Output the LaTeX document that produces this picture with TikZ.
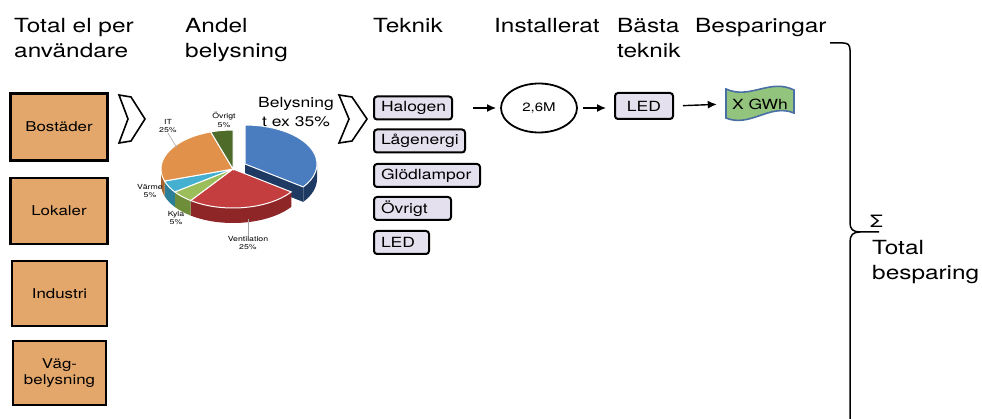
\documentclass[tikz,border=0pt]{standalone}
\usepackage{fontspec}
\setmainfont{TeX Gyre Heros}[FakeStretch=1.25]
\usetikzlibrary{arrows.meta,shapes.geometric}
\definecolor{boxorange}{HTML}{E4A76B}
\definecolor{techfill}{HTML}{E5E0EE}
\definecolor{flaggreen}{HTML}{93C47D}
\definecolor{flagedge}{HTML}{4A6FA5}
\definecolor{bluetop}{HTML}{4A7DC0}
\definecolor{blueside}{HTML}{1E3A63}
\definecolor{redtop}{HTML}{C43E3F}
\definecolor{redside}{HTML}{8E2526}
\definecolor{greentop}{HTML}{9BBE5A}
\definecolor{greenside}{HTML}{6E8E3A}
\definecolor{cyantop}{HTML}{45AFCF}
\definecolor{cyanside}{HTML}{2C7F99}
\definecolor{orangetop}{HTML}{E2914A}
\definecolor{orangeside}{HTML}{A8632A}
\definecolor{olivetop}{HTML}{4E6B2A}
\newcommand\pietop[3]{\fill[#3, draw=white, line width=1pt] (0,0) -- ({72*cos(#1)},{39*sin(#1)}) arc[start angle=#1, end angle=#2, x radius=72pt, y radius=39pt] -- cycle;}
\newcommand\pieside[3]{\fill[#3] ({72*cos(#1)},{39*sin(#1)}) arc[start angle=#1, end angle=#2, x radius=72pt, y radius=39pt] -- ++(0,-15) arc[start angle=#2, end angle=#1, x radius=72pt, y radius=39pt] -- cycle;}
\begin{document}
\begin{tikzpicture}[x=1pt,y=-1pt,
  catbox/.style={draw, line width=2.2pt, fill=boxorange, align=center, font=\fontsize{13.5}{16}\selectfont},
  techbox/.style={draw, line width=2pt, rounded corners=3pt, fill=techfill, minimum height=23pt, inner xsep=7pt, inner ysep=0pt, anchor=west, align=left, font=\fontsize{14}{16}\selectfont},
  heading/.style={inner sep=0pt, anchor=north west, align=left, font=\fontsize{19.5}{25}\selectfont},
  pielbl/.style={font=\fontsize{7}{8.5}\selectfont, align=center, inner sep=0pt},
  hollow/.style={draw, line width=1.6pt, fill=white, line join=miter},
  flow/.style={line width=1.4pt, -{Latex[length=9pt,width=8pt]}},
  leader/.style={draw=gray!70, line width=0.6pt}]
\useasboundingbox (0,0) rectangle (982,419);

% headings
\node[heading] (h1) at (14,18) {Total el per\\användare};
\node[heading] (h2) at (185,18) {Andel\\belysning};
\node[heading] (h3) at (373,18) {Teknik};
\node[heading] (h4) at (494,18) {Installerat};
\node[heading] (h5) at (617,18) {Bästa\\teknik};
\node[heading] (h6) at (695,18) {Besparingar};

% category boxes
\node[catbox, minimum width=97pt, minimum height=67pt] (bostader) at (59,127) {Bostäder};
\node[catbox, minimum width=97pt, minimum height=66pt] (lokaler) at (59,211) {Lokaler};
\node[catbox, minimum width=95pt, minimum height=65pt] (industri) at (59.5,293.5) {Industri};
\node[catbox, minimum width=93pt, minimum height=64pt] (vag) at (59.5,373) {Väg-\\belysning};

% hollow arrows
\draw[hollow] (119,95) -- (131,97) -- (145,119) -- (131,141) -- (119,143) -- (128,119) -- cycle;
\draw[hollow] (339,95) -- (352,97) -- (367,119) -- (352,141) -- (339,143) -- (349,119) -- cycle;

% pie chart
\begin{scope}[shift={(233,169)}, x=1pt, y=1pt]
  \begin{scope}[shift={(12,5)}]
    \pieside{-36}{0}{blueside}
    \fill[blueside] (0,0) -- ({72*cos(-36)},{39*sin(-36)}) -- ++(0,-15) -- (0,-15) -- cycle;
    \pietop{-36}{90}{bluetop}
  \end{scope}
  \pieside{-126}{-36}{redside}
  \pieside{-144}{-126}{greenside}
  \pieside{-162}{-144}{cyanside}
  \pieside{-180}{-162}{orangeside}
  \pietop{-126}{-36}{redtop}
  \pietop{-144}{-126}{greentop}
  \pietop{-162}{-144}{cyantop}
  \pietop{108}{198}{orangetop}
  \pietop{90}{108}{olivetop}
\end{scope}

% pie labels
\node[pielbl] (itlbl) at (168,126) {IT\\25\%};
\node[pielbl] (ovlbl) at (224,120) {Övrigt\\5\%};
\node[pielbl] (varmelbl) at (150,191) {Värme\\5\%};
\node[pielbl] (kylalbl) at (176,218) {Kyla\\5\%};
\node[pielbl] (ventlbl) at (248,243) {Ventilation\\25\%};
\coordinate (ventpt) at (248,219);
\coordinate (itpt) at (177,148);
\draw[leader] (ventlbl.north) -- (ventlbl.north |- ventpt);
\draw[leader] (itlbl.south) -- (itpt);

\node[font=\fontsize{14}{19}\selectfont, align=center, inner sep=0pt] (bely) at (296,112) {Belysning\\t ex 35\%};

% technique boxes
\node[techbox, text width=64pt] (halogen) at (373,108) {Halogen};
\node[techbox, text width=77pt] (lagenergi) at (373,141) {Lågenergi};
\node[techbox, text width=92pt] (glod) at (373,175.5) {Glödlampor};
\node[techbox, text width=63pt] (ovrigt) at (373,208.5) {Övrigt};
\node[techbox, text width=41pt] (led) at (373,242.5) {LED};

% installed
\node[draw, ellipse, line width=1.8pt, minimum width=76pt, minimum height=49pt, inner sep=0pt, font=\fontsize{12}{14}\selectfont] (inst) at (539,108) {2,6M};
\node[draw, line width=2pt, rounded corners=3pt, fill=techfill, minimum width=58pt, minimum height=26pt, inner sep=0pt, font=\fontsize{14}{16}\selectfont] (ledbest) at (644,106) {LED};

% savings flag
\fill[flaggreen, draw=flagedge, line width=1.6pt] (726,89) .. controls (750,100) and (770,78) .. (794,90) -- (794,113) .. controls (770,103) and (750,128) .. (726,118) -- cycle;
\node[minimum width=68pt, minimum height=26pt, inner sep=0pt, font=\fontsize{14}{16}\selectfont] (gwh) at (760,104) {X GWh};

% arrows
\draw[flow, shorten <=20pt, shorten >=4pt] (halogen.east) -- (inst.west);
\draw[flow, shorten <=5pt, shorten >=8pt] (inst.east) -- (inst.east -| ledbest.west);
\draw[flow, shorten <=9pt, shorten >=9pt] (ledbest.east) -- (gwh.west);

% brace
\draw[line width=1.5pt] (830,43) -- (843,43) .. controls (848,43) and (850,45) .. (850,50) -- (850,223) .. controls (850,229) and (853,232) .. (860,232) -- (879,232);
\draw[line width=1.5pt] (860,232) .. controls (853,232) and (850,235) .. (850,242) -- (850,420);

\node[anchor=base west, inner sep=0pt, font=\fontsize{17}{19}\selectfont] (sigma) at (870,228) {Σ};
\node[heading] (total) at (872,240) {Total\\besparing};
\end{tikzpicture}
\end{document}
